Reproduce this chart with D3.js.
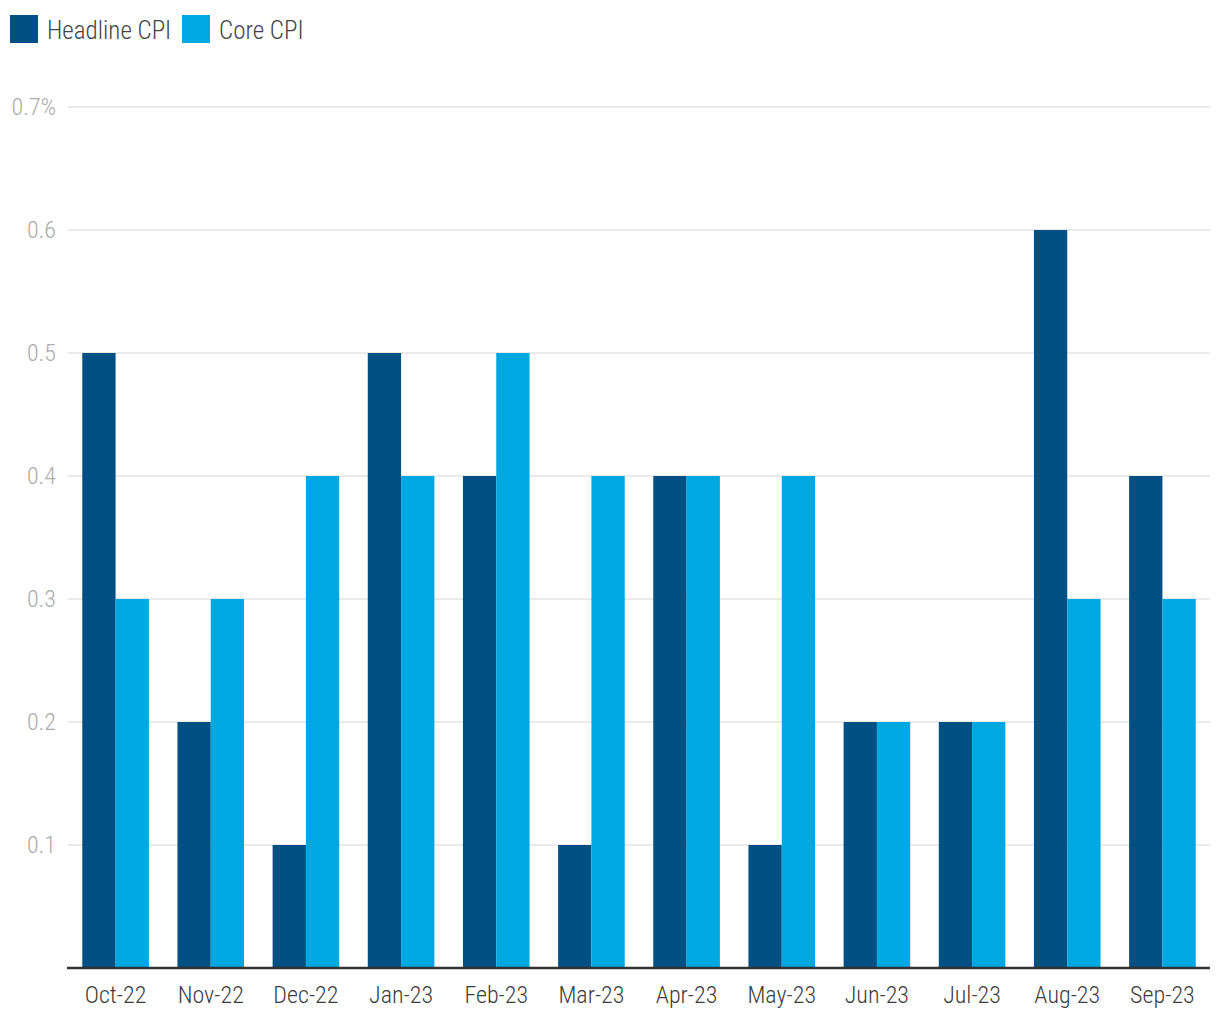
<!DOCTYPE html>
<html><head><meta charset="utf-8">
<script src="https://cdn.jsdelivr.net/npm/d3@7"></script>
<style>
body{margin:0;background:#fff;}
text{font-family:"Roboto Condensed","Liberation Sans Narrow","DejaVu Sans Condensed",sans-serif;font-stretch:condensed;font-weight:300;}
</style></head>
<body><svg id="c" width="1220" height="1020"></svg>
<script>
const categories=["Oct-22","Nov-22","Dec-22","Jan-23","Feb-23","Mar-23","Apr-23","May-23","Jun-23","Jul-23","Aug-23","Sep-23"];
const headline=[0.5,0.2,0.1,0.5,0.4,0.1,0.4,0.1,0.2,0.2,0.6,0.4];
const core=[0.3,0.3,0.4,0.4,0.5,0.4,0.4,0.4,0.2,0.2,0.3,0.3];
const seriesNames=["Headline CPI","Core CPI"];
const colors=["#005083","#00a8e1"];
const yTicks=[0.1,0.2,0.3,0.4,0.5,0.6,0.7];
const yTickLabels=["0.1","0.2","0.3","0.4","0.5","0.6","0.7%"];

(function(){
const svg=d3.select("#c");
const mL=68,mR=1210,mT=107,mB=968;
const x0=d3.scaleBand().domain(categories).range([mL,mR]).paddingInner(0.3).paddingOuter(0.15);
const x1=d3.scaleBand().domain(seriesNames).range([0,x0.bandwidth()]);
const y=d3.scaleLinear().domain([0,0.7]).range([mB,mT]);

svg.append("g").selectAll("line").data(yTicks).join("line")
 .attr("x1",mL).attr("x2",mR).attr("y1",d=>y(d)).attr("y2",d=>y(d))
 .attr("stroke","#e3e3e3").attr("stroke-width",1.5);
svg.append("g").selectAll("text").data(yTicks).join("text")
 .attr("x",56).attr("y",d=>y(d)).attr("dy","0.35em").attr("text-anchor","end")
 .attr("font-size",24).attr("fill","#ababab").text((d,i)=>yTickLabels[i]);

const data=categories.map((c,i)=>({c,vals:[headline[i],core[i]]}));
const g=svg.append("g").selectAll("g").data(data).join("g").attr("transform",d=>`translate(${x0(d.c)},0)`);
g.selectAll("rect").data(d=>d.vals.map((v,j)=>({v,s:seriesNames[j],j}))).join("rect")
 .attr("x",d=>x1(d.s)).attr("width",x1.bandwidth())
 .attr("y",d=>y(d.v)).attr("height",d=>y(0)-y(d.v)).attr("fill",d=>colors[d.j]);

const xa=svg.append("g").attr("transform",`translate(0,${mB})`).call(d3.axisBottom(x0).tickSize(0).tickPadding(18));
xa.select(".domain").attr("stroke","#333").attr("stroke-width",2.5).attr("d",`M${mL-1},0H${mR}`);
xa.attr("font-family",null);
xa.selectAll("text").attr("font-size",24).attr("fill","#3d3d3d");

const lg=svg.append("g");
const lx=[10,182];
seriesNames.forEach((s,i)=>{
 lg.append("rect").attr("x",lx[i]).attr("y",15).attr("width",28).attr("height",28).attr("fill",colors[i]);
 lg.append("text").attr("x",lx[i]+37).attr("y",30).attr("dy","0.35em").attr("font-size",25).attr("fill","#444").text(s);
});
})();
</script></body></html>
